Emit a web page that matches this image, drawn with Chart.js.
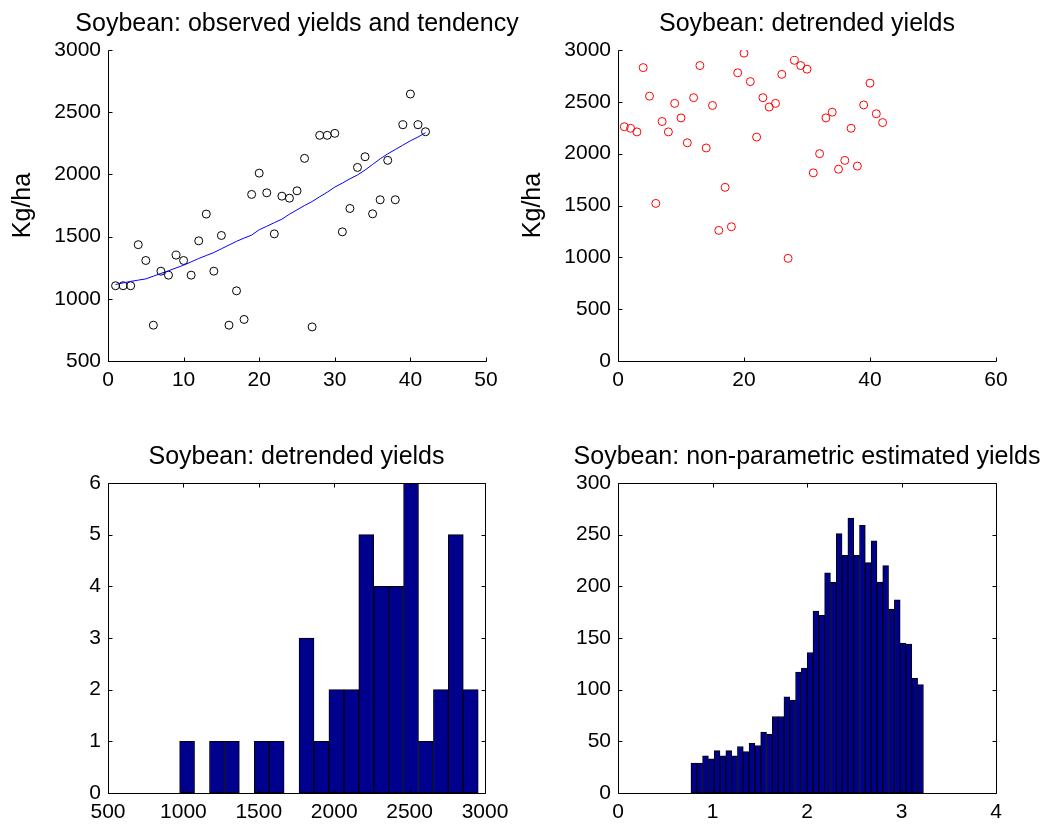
<!DOCTYPE html>
<html>
<head>
<meta charset="utf-8">
<script src="https://cdn.jsdelivr.net/npm/chart.js@4.4.0/dist/chart.umd.min.js"></script>
<style>
  html, body { margin: 0; padding: 0; background: #fff; }
  #fig { position: relative; width: 1053px; height: 825px; background: #fff; overflow: hidden; }
  #fig canvas { position: absolute; }
</style>
</head>
<body>
<div id="fig">
  <canvas id="c1" width="526" height="412" style="left:0;top:0"></canvas>
  <canvas id="c2" width="543" height="412" style="left:510px;top:0"></canvas>
  <canvas id="c3" width="526" height="413" style="left:0;top:412px"></canvas>
  <canvas id="c4" width="543" height="413" style="left:510px;top:412px"></canvas>
</div>
<script>
// years of the series
const years = [1, 2, 3, 4, 5, 6, 7, 8, 9, 10, 11, 12, 13, 14, 15, 16, 17, 18, 19, 20, 21,
  22, 23, 24, 25, 26, 27, 28, 29, 30, 31, 32, 33, 34, 35, 36, 37, 38, 39, 40, 41, 42];

// observed soybean yields (kg/ha)
const observed = [1105, 1105, 1105, 1435, 1308, 788, 1222, 1190, 1351, 1308, 1190, 1466, 1681, 1222,
  1509, 788, 1064, 834, 1839, 2010, 1852, 1522, 1825, 1809, 1868, 2129, 774, 2314, 2314, 2330,
  1538, 1726, 2056, 2142, 1683, 1796, 2113, 1796, 2399, 2646, 2399, 2343];

// fitted tendency
const tendency = [1115, 1128, 1140, 1150, 1160, 1182, 1204, 1225, 1248, 1270, 1297, 1324, 1348, 1372,
  1402, 1432, 1462, 1488, 1512, 1555, 1583, 1612, 1640, 1680, 1715, 1750, 1782, 1820, 1857, 1898,
  1930, 1965, 1995, 2035, 2080, 2125, 2165, 2200, 2235, 2270, 2300, 2335];

// detrended yields
const detrended = [2260, 2245, 2210, 2830, 2555, 1520, 2310, 2210, 2485, 2345, 2105, 2540, 2850, 2055,
  2465, 1260, 1675, 1295, 2780, 2970, 2695, 2160, 2540, 2450, 2485, 2765, 990, 2900, 2850, 2815,
  1815, 2000, 2345, 2400, 1850, 1935, 2245, 1880, 2470, 2680, 2385, 2300];

// histogram of detrended yields
const histCenters = [1024.5, 1123.5, 1222.5, 1321.5, 1420.5, 1519.5, 1618.5, 1717.5, 1816.5, 1915.5,
  2014.5, 2113.5, 2212.5, 2311.5, 2410.5, 2509.5, 2608.5, 2707.5, 2806.5, 2905.5];
const histCounts = [1, 0, 1, 1, 0, 1, 1, 0, 3, 1, 2, 2, 5, 4, 4, 6, 1, 2, 5, 2];

// histogram of non-parametric estimated yields
const estCenters = [0.80275, 0.86425, 0.92575, 0.98725, 1.04875, 1.11025, 1.17175, 1.23325, 1.29475, 1.35625,
  1.41775, 1.47925, 1.54075, 1.60225, 1.66375, 1.72525, 1.78675, 1.84825, 1.90975, 1.97125,
  2.03275, 2.09425, 2.15575, 2.21725, 2.27875, 2.34025, 2.40175, 2.46325, 2.52475, 2.58625,
  2.64775, 2.70925, 2.77075, 2.83225, 2.89375, 2.95525, 3.01675, 3.07825, 3.13975, 3.20125];
const estCounts = [29, 29, 36, 33, 41, 36, 41, 36, 45, 40, 48, 46, 59, 57, 74, 74, 93, 90, 117, 121,
  136, 176, 172, 213, 204, 251, 230, 266, 230, 259, 223, 244, 204, 220, 178, 187, 145, 144, 111, 105];

const FONT = '"Liberation Sans", Arial, sans-serif';
Chart.defaults.font.family = FONT;
Chart.defaults.color = '#000';

const pairs = (xs, ys) => xs.map((x, i) => ({ x: x, y: ys[i] }));
const plain = v => String(v);

// matlab-like axes: inward ticks, optional box, title above the plot
const matlabAxes = {
  id: 'matlabAxes',
  afterDraw(chart, args, opts) {
    const { ctx, chartArea: a, scales } = chart;
    const L = Math.floor(a.left) + 0.5, R = Math.floor(a.right) + 0.5;
    const T = Math.floor(a.top) + 0.5, B = Math.floor(a.bottom) + 0.5;
    const tl = 4;
    ctx.save();
    ctx.strokeStyle = '#000';
    ctx.lineWidth = 1;
    ctx.beginPath();
    ctx.moveTo(L, T); ctx.lineTo(L, B); ctx.lineTo(R, B);
    if (opts.box) { ctx.lineTo(R, T); ctx.lineTo(L, T); }
    scales.x.ticks.forEach(t => {
      const px = Math.round(scales.x.getPixelForValue(t.value)) + 0.5;
      ctx.moveTo(px, B); ctx.lineTo(px, B - tl);
      if (opts.box) { ctx.moveTo(px, T); ctx.lineTo(px, T + tl); }
    });
    scales.y.ticks.forEach(t => {
      const py = Math.round(scales.y.getPixelForValue(t.value)) + 0.5;
      ctx.moveTo(L, py); ctx.lineTo(L + tl, py);
      if (opts.box) { ctx.moveTo(R, py); ctx.lineTo(R - tl, py); }
    });
    ctx.stroke();
    ctx.fillStyle = '#000';
    ctx.font = '25px ' + FONT;
    ctx.textAlign = 'center';
    ctx.textBaseline = 'alphabetic';
    ctx.fillText(opts.title, (a.left + a.right) / 2, a.top - 19);
    ctx.restore();
  }
};

function axes(p) {
  const tickFont = { size: 21 };
  return {
    responsive: false,
    animation: false,
    events: [],
    layout: { padding: { left: 0, top: p.top, right: p.right, bottom: 0 } },
    plugins: {
      legend: { display: false },
      tooltip: { enabled: false },
      matlabAxes: { title: p.title, box: p.box }
    },
    scales: {
      x: {
        type: 'linear', min: p.xMin, max: p.xMax, offset: false,
        grid: { display: false, drawTicks: false },
        border: { display: false },
        ticks: { stepSize: p.xStep, autoSkip: false, maxRotation: 0, padding: 7, font: tickFont, color: '#000', callback: plain },
        afterFit: s => { s.height = p.xH; }
      },
      y: {
        type: 'linear', min: p.yMin, max: p.yMax,
        grid: { display: false, drawTicks: false },
        border: { display: false },
        ticks: { stepSize: p.yStep, autoSkip: false, padding: 7, font: tickFont, color: '#000', callback: plain },
        title: { display: !!p.yLabel, text: p.yLabel || '', font: { size: 25 }, color: '#000', padding: { top: 8, bottom: 0 } },
        afterFit: s => { s.width = 108; }
      }
    }
  };
}

new Chart(document.getElementById('c1'), {
  type: 'scatter',
  data: {
    datasets: [
      { data: pairs(years, tendency), showLine: true, borderColor: '#0000ff', borderWidth: 1, pointRadius: 0, tension: 0, fill: false },
      { data: pairs(years, observed), pointStyle: 'circle', pointRadius: 4, borderWidth: 1, borderColor: '#000', backgroundColor: 'rgba(0,0,0,0)' }
    ]
  },
  options: axes({ title: 'Soybean: observed yields and tendency', box: false, top: 50, right: 40, xH: 51,
    xMin: 0, xMax: 50, xStep: 10, yMin: 500, yMax: 3000, yStep: 500, yLabel: 'Kg/ha' }),
  plugins: [matlabAxes]
});

new Chart(document.getElementById('c2'), {
  type: 'scatter',
  data: {
    datasets: [
      { data: pairs(years, detrended), pointStyle: 'circle', pointRadius: 4, borderWidth: 1, borderColor: '#ff0000', backgroundColor: 'rgba(0,0,0,0)' }
    ]
  },
  options: axes({ title: 'Soybean: detrended yields', box: false, top: 50, right: 57, xH: 51,
    xMin: 0, xMax: 60, xStep: 20, yMin: 0, yMax: 3000, yStep: 500, yLabel: 'Kg/ha' }),
  plugins: [matlabAxes]
});

new Chart(document.getElementById('c3'), {
  type: 'bar',
  data: {
    datasets: [
      { data: pairs(histCenters, histCounts), backgroundColor: '#00008f', borderColor: '#000', borderWidth: 1,
        borderSkipped: false, barPercentage: 1, categoryPercentage: 1 }
    ]
  },
  options: axes({ title: 'Soybean: detrended yields', box: true, top: 71, right: 41, xH: 32,
    xMin: 500, xMax: 3000, xStep: 500, yMin: 0, yMax: 6, yStep: 1 }),
  plugins: [matlabAxes]
});

new Chart(document.getElementById('c4'), {
  type: 'bar',
  data: {
    datasets: [
      { data: pairs(estCenters, estCounts), backgroundColor: '#00008f', borderColor: '#000', borderWidth: 1,
        borderSkipped: false, barPercentage: 1, categoryPercentage: 1 }
    ]
  },
  options: axes({ title: 'Soybean: non-parametric estimated yields', box: true, top: 71, right: 57, xH: 32,
    xMin: 0, xMax: 4, xStep: 1, yMin: 0, yMax: 300, yStep: 50 }),
  plugins: [matlabAxes]
});
</script>
</body>
</html>
